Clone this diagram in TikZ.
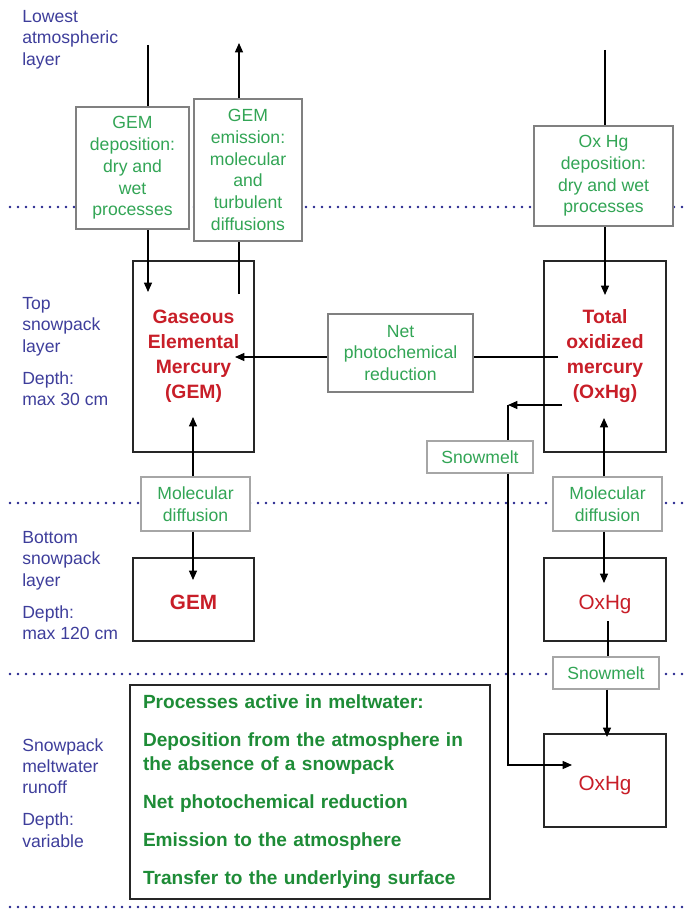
\documentclass[tikz,border=0pt]{standalone}
\usepackage{fontspec}
\setmainfont{Liberation Sans}
\usepackage{xcolor}
\usetikzlibrary{arrows.meta,positioning}
\definecolor{layerblue}{RGB}{62,62,155}
\definecolor{dotblue}{RGB}{35,35,140}
\definecolor{fluxgreen}{RGB}{50,165,85}
\definecolor{listgreen}{RGB}{30,140,55}
\definecolor{hgred}{RGB}{200,30,40}

\begin{document}
\begin{tikzpicture}[
  x=0.75pt, y=-0.75pt,
  layerlabel/.style={
    font=\fontsize{13.2}{16.1}\selectfont,
    text=layerblue,
    align=left,
    anchor=north west,
    inner sep=0pt
  },
  fluxbox/.style={
    draw=black!50,
    line width=1.7pt,
    fill=white,
    align=center,
    inner sep=0pt,
    text=fluxgreen,
    font=\fontsize{13.2}{16.3}\selectfont
  },
  thinbox/.style={
    fluxbox,
    draw=black!35,
    line width=1pt
  },
  poolbox/.style={
    draw=black!85,
    line width=1pt,
    fill=white,
    align=center,
    inner sep=0pt,
    text=hgred
  },
  toppool/.style={poolbox, font=\fontsize{14.5}{18.75}\selectfont\bfseries},
  botpool/.style={poolbox, font=\fontsize{15.5}{18}\selectfont, text height=19pt, text depth=3.3pt},
  listbox/.style={
    draw=black!85,
    line width=1pt,
    fill=white,
    align=left,
    text width=250.5pt,
    inner xsep=9.75pt,
    inner ysep=0pt,
    text=listgreen,
    font=\fontsize{14.3}{18}\selectfont\bfseries
  },
  layerline/.style={draw=dotblue, line width=2pt, dash pattern=on 0pt off 6pt, line cap=round},
  link/.style={line width=0.9pt},
  arrow/.style={-{Triangle[length=7pt,width=6pt]}, line width=0.9pt}
]
\useasboundingbox (0,0) rectangle (684,909);

% layer boundaries
\foreach \yy in {207,503,674,907}
  \draw[layerline] (10,\yy) -- (684,\yy);

% layer names
\node[layerlabel] (lbAtm) at (22,10) {Lowest\\atmospheric\\layer};
\node[layerlabel] (lbTop) at (22,297) {Top\\snowpack\\layer\\[7.9pt]Depth:\\max 30 cm};
\node[layerlabel] (lbBot) at (22,531) {Bottom\\snowpack\\layer\\[7.9pt]Depth:\\max 120 cm};
\node[layerlabel] (lbMelt) at (22,738) {Snowpack\\meltwater\\runoff\\[7.9pt]Depth:\\variable};

% mercury pools
\node[toppool, minimum width=90.75pt, minimum height=143.25pt] (gemTop) at (193.5,356.5) {Gaseous\\Elemental\\Mercury\\(GEM)};
\node[toppool, minimum width=91.5pt, minimum height=143.25pt] (oxTop) at (605,356.5) {Total\\oxidized\\mercury\\(OxHg)};
\node[botpool, font=\fontsize{15.5}{18}\selectfont\bfseries, minimum width=90.75pt, minimum height=62.25pt] (gemBot) at (193.5,599.5) {GEM};
\node[botpool, minimum width=91.5pt, minimum height=62.25pt] (oxBot) at (605,599.5) {OxHg};
\node[botpool, minimum width=91.5pt, minimum height=69.75pt] (oxMelt) at (605,780.5) {OxHg};

% process boxes
\node[fluxbox, minimum width=84.75pt, minimum height=91.5pt] (depGEM) at (132.5,168) {GEM\\deposition:\\dry and\\wet\\processes};
\node[fluxbox, minimum width=81pt, minimum height=106.5pt] (emiGEM) at (248,170) {GEM\\emission:\\molecular\\and\\turbulent\\diffusions};
\node[fluxbox, minimum width=104.25pt, minimum height=75pt] (depOx) at (603.5,176) {Ox Hg\\deposition:\\dry and wet\\processes};
\node[fluxbox, minimum width=108.75pt, minimum height=58.5pt] (npr) at (400.5,353) {Net\\photochemical\\reduction};
\node[thinbox, minimum width=79.5pt, minimum height=24pt] (snow1) at (480,457) {Snowmelt};
\node[thinbox, minimum width=81.75pt, minimum height=40.5pt] (mdL) at (195.5,504) {Molecular\\diffusion};
\node[thinbox, minimum width=81.75pt, minimum height=40.5pt] (mdR) at (607.5,504) {Molecular\\diffusion};
\node[thinbox, minimum width=79.5pt, minimum height=24pt] (snow2) at (606,673) {Snowmelt};

\node[listbox, minimum height=160.5pt] (procs) at (310,792) {Processes active in meltwater:\\[10.5pt]Deposition from the atmosphere in\\the absence of a snowpack\\[10.5pt]Net photochemical reduction\\[10.5pt]Emission to the atmosphere\\[10.5pt]Transfer to the underlying surface};

% connector ends
\coordinate (gemDepIn) at (148,45);
\coordinate (gemDepTip) at (148,292);
\coordinate (gemEmiOut) at (239,43);
\coordinate (gemEmiFoot) at (239,294);
\coordinate (oxDepIn) at (605,50);
\coordinate (oxDepTip) at (605,295);
\coordinate (nprFrom) at (558,357);
\coordinate (nprTip) at (235,357);
\coordinate (gemUpTip) at (193,417);
\coordinate (gemDownTip) at (193,580);
\coordinate (oxUpTip) at (604,418);
\coordinate (oxDownTip) at (604,583);
\coordinate (meltFrom) at (562,405);
\coordinate (meltBend) at (508,405);
\coordinate (meltTip) at (572,765);
\coordinate (oxBotFrom) at (608,621);
\coordinate (oxMeltTip) at (607,737);

% fluxes
\draw[link] (gemDepIn) -- (gemDepIn |- depGEM.north);
\draw[arrow] (gemDepTip |- depGEM.south) -- (gemDepTip);
\draw[link] (gemEmiFoot) -- (gemEmiFoot |- emiGEM.south);
\draw[arrow] (gemEmiOut |- emiGEM.north) -- (gemEmiOut);
\draw[link] (oxDepIn) -- (oxDepIn |- depOx.north);
\draw[arrow] (oxDepTip |- depOx.south) -- (oxDepTip);

\draw[link] (nprFrom) -- (nprFrom -| npr.east);
\draw[arrow] (nprTip -| npr.west) -- (nprTip);

\draw[arrow] (gemUpTip |- mdL.north) -- (gemUpTip);
\draw[arrow] (gemDownTip |- mdL.south) -- (gemDownTip);
\draw[arrow] (oxUpTip |- mdR.north) -- (oxUpTip);
\draw[arrow] (oxDownTip |- mdR.south) -- (oxDownTip);

\draw[arrow] (meltFrom) -- (meltBend);
\draw[link] (meltBend) -- (meltBend |- snow1.north);
\draw[arrow] (meltBend |- snow1.south) |- (meltTip);
\draw[link] (oxBotFrom) -- (oxBotFrom |- snow2.north);
\draw[arrow] (oxMeltTip |- snow2.south) -- (oxMeltTip);
\end{tikzpicture}
\end{document}
